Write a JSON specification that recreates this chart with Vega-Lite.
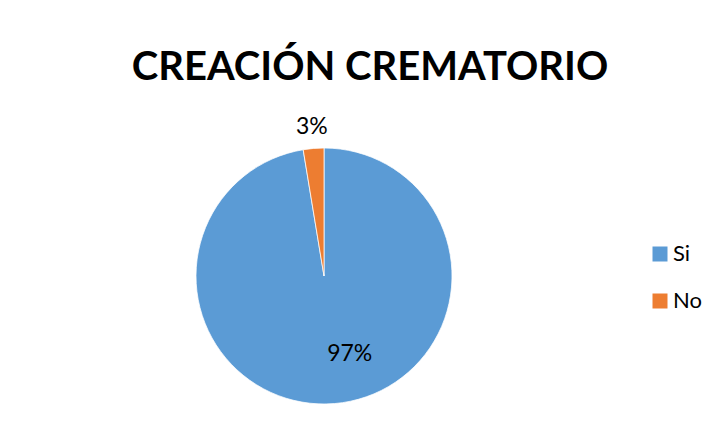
{
  "$schema": "https://vega.github.io/schema/vega-lite/v6.json",
  "width": 256,
  "height": 256,
  "autosize": {"type": "none"},
  "padding": {"left": 196, "top": 148, "right": 265, "bottom": 43},
  "background": "white",
  "title": {
    "text": "CREACIÓN CREMATORIO",
    "frame": "group",
    "anchor": "middle",
    "dx": 46,
    "offset": -4,
    "baseline": "alphabetic",
    "font": "Lato",
    "fontSize": 40,
    "fontWeight": "bold",
    "color": "#000000"
  },
  "data": {
    "values": [
      {"respuesta": "Si", "porcentaje": 0.974},
      {"respuesta": "No", "porcentaje": 0.026}
    ]
  },
  "encoding": {
    "theta": {"field": "porcentaje", "type": "quantitative", "stack": true},
    "order": {"field": "respuesta", "sort": "descending"}
  },
  "layer": [
    {
      "mark": {"type": "arc", "stroke": "white", "strokeWidth": 0.75},
      "encoding": {
        "color": {
          "field": "respuesta",
          "type": "nominal",
          "scale": {"domain": ["Si", "No"], "range": ["#5B9BD5", "#ED7D31"]},
          "legend": {
            "orient": "none",
            "legendX": 453,
            "legendY": 95,
            "title": null,
            "symbolType": "square",
            "symbolSize": 225,
            "symbolStrokeWidth": 0,
            "labelFont": "Lato",
            "labelFontSize": 22,
            "labelColor": "#000000",
            "labelOffset": 2,
            "rowPadding": 25
          }
        }
      }
    },
    {
      "mark": {"type": "text", "radius": 82, "dx": 19, "dy": -4, "font": "Lato", "fontSize": 23, "color": "#000000", "align": "center", "baseline": "middle"},
      "encoding": {
        "text": {
          "condition": {"test": "datum.respuesta === 'Si'", "field": "porcentaje", "type": "quantitative", "format": ".0%"},
          "value": ""
        }
      }
    },
    {
      "mark": {"type": "text", "radius": 149, "font": "Lato", "fontSize": 23, "color": "#000000", "align": "center", "baseline": "middle"},
      "encoding": {
        "text": {
          "condition": {"test": "datum.respuesta === 'No'", "field": "porcentaje", "type": "quantitative", "format": ".0%"},
          "value": ""
        }
      }
    }
  ],
  "config": {"view": {"stroke": null}}
}
